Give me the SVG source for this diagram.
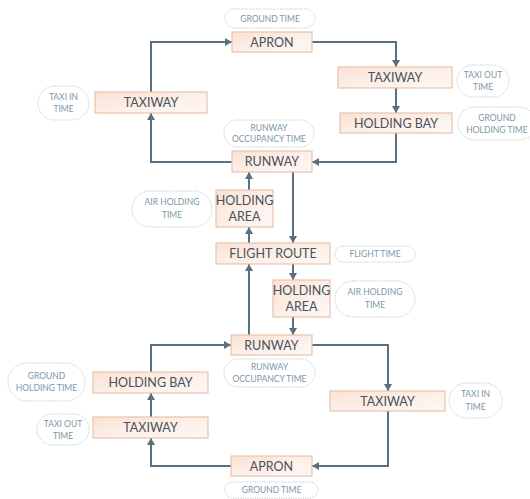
<svg xmlns="http://www.w3.org/2000/svg" width="530" height="499" viewBox="0 0 530 499">
<defs>
<linearGradient id="boxfill" x1="0" y1="0" x2="1" y2="1">
<stop offset="0" stop-color="#fbe2d4"/>
<stop offset="0.6" stop-color="#fdf1ea"/>
<stop offset="1" stop-color="#fef8f4"/>
</linearGradient>
<marker id="arr" markerUnits="userSpaceOnUse" markerWidth="8" markerHeight="8" refX="7" refY="4" orient="auto">
<path d="M0,0 L7,4 L0,8 Z" fill="#587080"/>
</marker>
<style>
.box{fill:url(#boxfill);stroke:#e6c3ae;stroke-width:1.2}
.pill{fill:#ffffff;stroke:#c4c8ca;stroke-width:1;stroke-dasharray:1.2 1.2}
.t{font-family:Lato,"Open Sans","Liberation Sans",sans-serif;font-size:12.5px;fill:#47535d;text-anchor:middle}
.p{font-family:Lato,"Open Sans","Liberation Sans",sans-serif;font-size:8.5px;fill:#7d97a6;text-anchor:middle}
.c{fill:none;stroke:#587080;stroke-width:2;marker-end:url(#arr)}
</style>
</defs>
<rect width="530" height="499" fill="#ffffff"/>
<g id="connectors">
<path class="c" d="M312,42 H396 V67"/>
<path class="c" d="M396,88 V113"/>
<path class="c" d="M396,133 V162 H312"/>
<path class="c" d="M232,162 H151 V113"/>
<path class="c" d="M151,92 V42 H232"/>
<path class="c" d="M249,190 V172"/>
<path class="c" d="M249,243 V227"/>
<path class="c" d="M293,172 V243"/>
<path class="c" d="M293,264 V280"/>
<path class="c" d="M249,335 V264"/>
<path class="c" d="M293,317 V335"/>
<path class="c" d="M312,345 H388 V391"/>
<path class="c" d="M388,411 V466 H312"/>
<path class="c" d="M231,466 H151 V438"/>
<path class="c" d="M151,417 V393"/>
<path class="c" d="M151,372 V345 H231"/>
</g>
<g id="apron-top"><rect class="box" x="232" y="32" width="80" height="20"/><text class="t" x="272" y="46.5">APRON</text></g>
<g id="taxiway-tl"><rect class="box" x="95" y="92" width="112" height="21"/><text class="t" x="151" y="107">TAXIWAY</text></g>
<g id="taxiway-tr"><rect class="box" x="338" y="67" width="114" height="21"/><text class="t" x="395" y="82">TAXIWAY</text></g>
<g id="holdingbay-tr"><rect class="box" x="340" y="113" width="112" height="20"/><text class="t" x="396" y="127.5">HOLDING BAY</text></g>
<g id="runway-top"><rect class="box" x="232" y="151" width="80" height="21"/><text class="t" x="272" y="166">RUNWAY</text></g>
<g id="holdingarea-l"><rect class="box" x="216" y="190" width="57" height="37"/><text class="t" x="244.5" y="205">HOLDING</text><text class="t" x="244.5" y="221">AREA</text></g>
<g id="flightroute"><rect class="box" x="216" y="243" width="114" height="21"/><text class="t" x="273" y="258">FLIGHT ROUTE</text></g>
<g id="holdingarea-r"><rect class="box" x="273" y="280" width="57" height="37"/><text class="t" x="301.5" y="295">HOLDING</text><text class="t" x="301.5" y="311">AREA</text></g>
<g id="runway-bot"><rect class="box" x="231" y="335" width="81" height="20"/><text class="t" x="271.5" y="349.5">RUNWAY</text></g>
<g id="holdingbay-bl"><rect class="box" x="93" y="372" width="115" height="21"/><text class="t" x="150.5" y="387">HOLDING BAY</text></g>
<g id="taxiway-bl"><rect class="box" x="93" y="417" width="115" height="21"/><text class="t" x="150.5" y="432">TAXIWAY</text></g>
<g id="taxiway-br"><rect class="box" x="330" y="391" width="115" height="20"/><text class="t" x="387.5" y="405.5">TAXIWAY</text></g>
<g id="apron-bot"><rect class="box" x="231" y="456" width="81" height="20"/><text class="t" x="271.5" y="470.5">APRON</text></g>
<g id="lbl-groundtime-top"><rect class="pill" x="225" y="9" width="90" height="19" rx="9.5"/><text class="p" x="270" y="21.5">GROUND TIME</text></g>
<g id="lbl-taxiin-tl"><rect class="pill" x="38" y="86" width="51" height="34" rx="17"/><text class="p" x="63.5" y="100">TAXI IN</text><text class="p" x="63.5" y="112">TIME</text></g>
<g id="lbl-taxiout-tr"><rect class="pill" x="457" y="65" width="52" height="32" rx="16"/><text class="p" x="483" y="78">TAXI OUT</text><text class="p" x="483" y="90">TIME</text></g>
<g id="lbl-groundholding-tr"><rect class="pill" x="458" y="107" width="78" height="33" rx="16.5"/><text class="p" x="497" y="121">GROUND</text><text class="p" x="497" y="133">HOLDING  TIME</text></g>
<g id="lbl-occupancy-top"><rect class="pill" x="224" y="120" width="90" height="27" rx="13.5"/><text class="p" x="269" y="131">RUNWAY</text><text class="p" x="269" y="142">OCCUPANCY TIME</text></g>
<g id="lbl-airholding-l"><rect class="pill" x="132" y="191" width="80" height="36" rx="18"/><text class="p" x="172" y="205">AIR  HOLDING</text><text class="p" x="172" y="218">TIME</text></g>
<g id="lbl-flighttime"><rect class="pill" x="335" y="246" width="80" height="16" rx="8"/><text class="p" x="375" y="257">FLIGHT TIME</text></g>
<g id="lbl-airholding-r"><rect class="pill" x="335" y="281" width="80" height="36" rx="18"/><text class="p" x="375" y="295">AIR  HOLDING</text><text class="p" x="375" y="308">TIME</text></g>
<g id="lbl-occupancy-bot"><rect class="pill" x="224" y="359" width="91" height="28" rx="14"/><text class="p" x="269.5" y="370">RUNWAY</text><text class="p" x="269.5" y="382">OCCUPANCY TIME</text></g>
<g id="lbl-groundholding-bl"><rect class="pill" x="8" y="363" width="77" height="38" rx="19"/><text class="p" x="46.5" y="379">GROUND</text><text class="p" x="46.5" y="391">HOLDING  TIME</text></g>
<g id="lbl-taxiout-bl"><rect class="pill" x="37" y="414" width="52" height="31" rx="15.5"/><text class="p" x="63" y="427">TAXI OUT</text><text class="p" x="63" y="439">TIME</text></g>
<g id="lbl-taxiin-br"><rect class="pill" x="449" y="383" width="53" height="35" rx="17.5"/><text class="p" x="475.5" y="397">TAXI IN</text><text class="p" x="475.5" y="410">TIME</text></g>
<g id="lbl-groundtime-bot"><rect class="pill" x="225" y="482" width="93" height="16" rx="8"/><text class="p" x="271.5" y="493">GROUND TIME</text></g>
</svg>
